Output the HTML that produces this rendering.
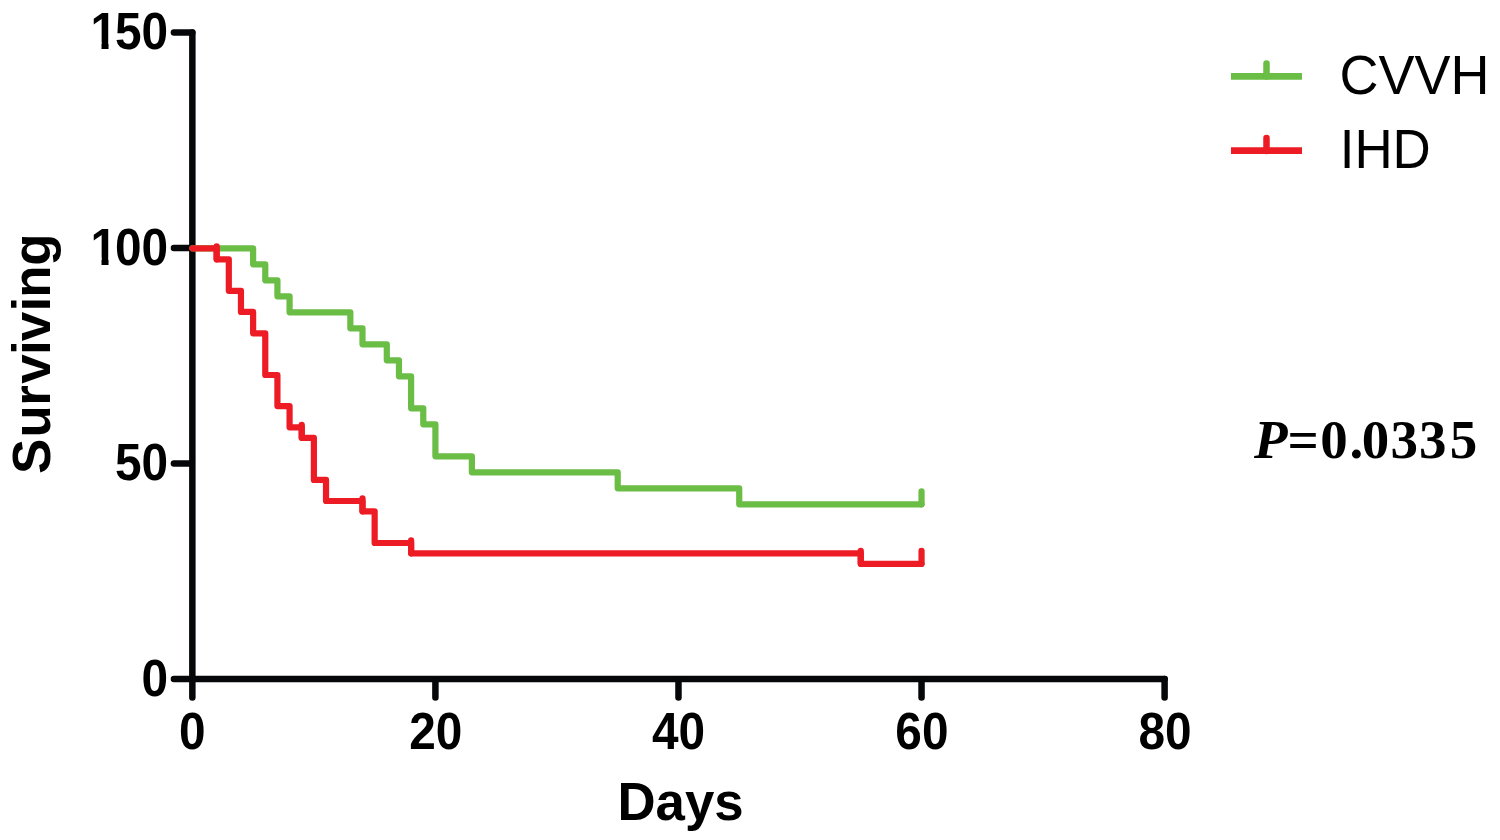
<!DOCTYPE html>
<html><head><meta charset="utf-8"><title>Survival</title>
<style>
html,body{margin:0;padding:0;background:#fff;}
svg{display:block}
text{font-family:"Liberation Sans",Arial,sans-serif;fill:#000}
.b{font-weight:bold}
.n{font-size:50px;font-weight:bold}
.t{font-size:54px;font-weight:bold}
.l{font-size:54px}
.p{font-family:"Liberation Serif","Times New Roman",serif;font-weight:bold;font-size:55px}
</style></head><body>
<svg width="1500" height="840" viewBox="0 0 1500 840">
<defs><clipPath id="c1"><path clip-rule="evenodd" d="M70 -45 H185 V8 H70 Z M92.87 -6.8 H106.3 V3 H92.87 Z M113.65 -6.8 H121.47 V3 H113.65 Z"/></clipPath></defs>
<rect width="1500" height="840" fill="#fff"/>
<g fill="none" stroke="#050708" stroke-width="6.5" stroke-linecap="round" stroke-linejoin="round">
<path d="M192.35 32.60 V697.5"/>
<path d="M173.95 679.0 H1164.60"/>
<path d="M173.95 463.53 H190.35"/>
<path d="M173.95 248.07 H190.35"/>
<path d="M173.95 32.60 H192.35"/>
<path d="M435.41 681.0 V697.5"/>
<path d="M678.48 681.0 V697.5"/>
<path d="M921.54 681.0 V697.5"/>
<path d="M1164.60 679.0 V697.5"/>
</g>
<g fill="none" stroke="#6abd45" stroke-width="6.2" stroke-linecap="round" stroke-linejoin="round">
<path d="M192.35 248.30 L253.12 248.30 L253.12 264.30 L265.27 264.30 L265.27 280.30 L277.42 280.30 L277.42 296.30 L289.57 296.30 L289.57 312.30 L350.34 312.30 L350.34 328.30 L362.49 328.30 L362.49 344.30 L386.80 344.30 L386.80 360.30 L398.95 360.30 L398.95 376.30 L411.11 376.30 L411.11 408.30 L423.26 408.30 L423.26 424.30 L435.41 424.30 L435.41 456.30 L471.87 456.30 L471.87 472.30 L617.71 472.30 L617.71 488.30 L739.24 488.30 L739.24 504.30 L921.54 504.30"/><path d="M921.54 504.30 V491.30"/>
</g>
<g fill="none" stroke="#ed1c24" stroke-width="6.2" stroke-linecap="round" stroke-linejoin="round">
<path d="M192.35 248.30 L216.66 248.30 L216.66 259.30 L228.81 259.30 L228.81 290.80 L240.96 290.80 L240.96 311.90 L253.12 311.90 L253.12 333.30 L265.27 333.30 L265.27 375.00 L277.42 375.00 L277.42 406.10 L289.57 406.10 L289.57 427.30 L301.73 427.30 L301.73 437.80 L313.88 437.80 L313.88 479.90 L326.03 479.90 L326.03 501.00 L362.49 501.00 L362.49 511.30 L374.65 511.30 L374.65 543.00 L411.11 543.00 L411.11 553.30 L860.77 553.30 L860.77 563.80 L921.54 563.80"/><path d="M216.66 259.30 V246.30"/><path d="M301.73 437.80 V424.80"/><path d="M362.49 511.30 V498.30"/><path d="M411.11 553.30 V540.30"/><path d="M860.77 563.80 V550.80"/><path d="M921.54 563.80 V550.80"/>
</g>
<g class="n" text-anchor="end">
<text text-anchor="start" clip-path="url(#c1)" transform="translate(0 49.3) scale(0.955 1.03)" x="94.87 120.42 148.22">150</text>
<text text-anchor="start" clip-path="url(#c1)" transform="translate(0 264.8) scale(0.955 1.03)" x="94.87 120.42 148.22">100</text>
<text transform="translate(168.1 480.2) scale(0.955 1.03)">50</text>
<text transform="translate(168.1 695.7) scale(0.955 1.03)">0</text>
</g>
<g transform="translate(89.8 264.8)" clip-path="url(#c1)"><text text-anchor="start" transform="scale(1 1.03)">1</text></g>
</g>
<g class="n" text-anchor="middle">
<text transform="translate(192.3 749.3) scale(0.955 1.03)">0</text>
<text transform="translate(435.7 749.3) scale(0.955 1.03)">20</text>
<text transform="translate(678.5 749.3) scale(0.955 1.03)">40</text>
<text transform="translate(921.9 749.3) scale(0.955 1.03)">60</text>
<text transform="translate(1165.1 749.3) scale(0.955 1.03)">80</text>
</g>
<text class="t" text-anchor="middle" transform="translate(680.5 819.6) scale(0.978 1.01)">Days</text>
<text class="t" text-anchor="middle" transform="translate(50.2 353.7) rotate(-90) scale(0.979 1.0)" dx="0 1.3 -0.65 1.5 -0.6 -1.15 0.4 -0.8 -0.4">Surviving</text>
<g fill="none" stroke-width="6.8">
<path d="M1231 76.4 H1302" stroke="#6abd45"/>
<path d="M1266.5 76.6 V63.6" stroke="#6abd45" stroke-linecap="round" stroke-width="6.5"/>
<path d="M1231 150.7 H1302" stroke="#ed1c24"/>
<path d="M1266.5 151 V138" stroke="#ed1c24" stroke-linecap="round" stroke-width="6.5"/>
</g>
<text class="l" transform="translate(1339.5 94) scale(1 1.045)">CVVH</text>
<text class="l" transform="translate(1339.7 168) scale(0.98 1.04)">IHD</text>
<text class="p" transform="translate(0 457.6) scale(1 1.015)"><tspan font-style="italic" x="1254">P</tspan><tspan x="1287.6 1320.15 1349.45 1361.8 1390.4 1419.1 1449.7">=0.0335</tspan></text>
</svg>
</body></html>
